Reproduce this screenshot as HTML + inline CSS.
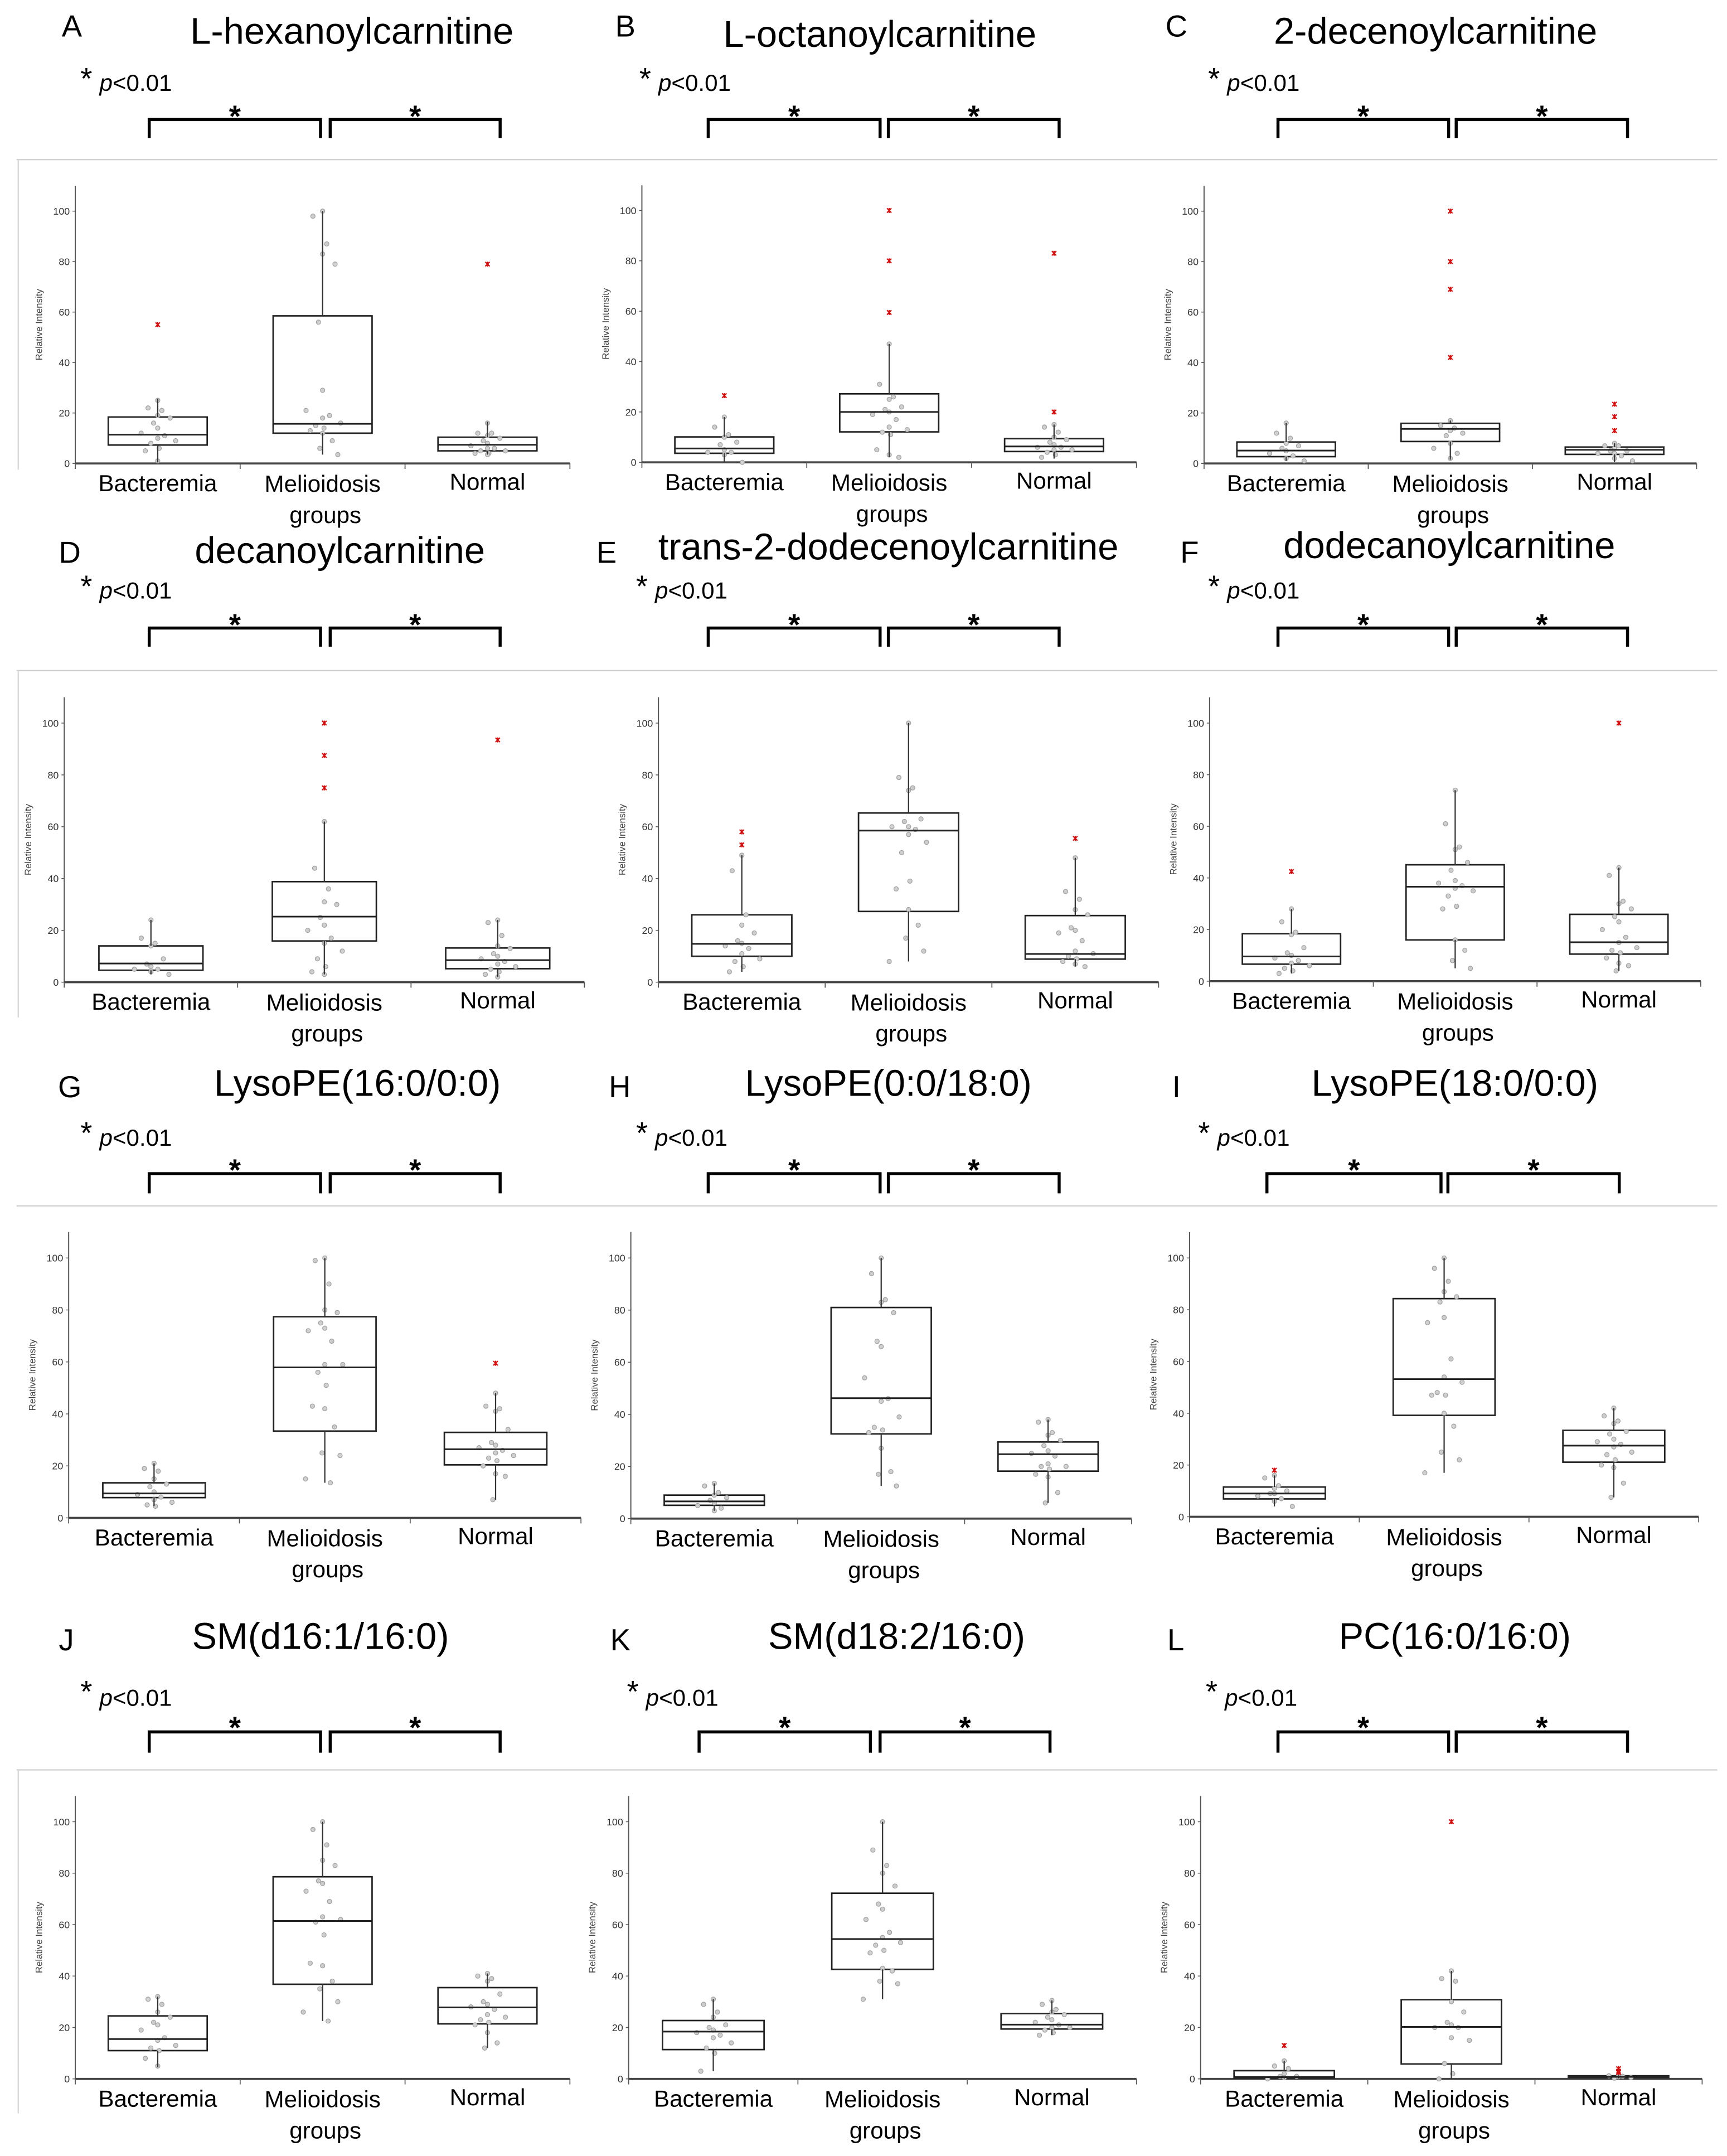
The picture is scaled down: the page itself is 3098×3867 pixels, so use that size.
<!DOCTYPE html>
<html><head><meta charset="utf-8"><title>Relative intensity box plots for 12 metabolites</title>
<style>
html,body{margin:0;padding:0;background:#fff;}
svg{display:block;}
text{font-family:"Liberation Sans",Arial,sans-serif;}
</style></head>
<body>
<svg id="fig" xmlns="http://www.w3.org/2000/svg" width="3098" height="3867" viewBox="0 0 1250 1560.3" preserveAspectRatio="none">
<rect x="0" y="0" width="1250" height="1560.3" fill="#fff"/>
</svg>
<script>
// ---------- DATA ----------
const categories = ["Bacteremia", "Melioidosis groups", "Normal"];
const yTicks = [0, 20, 40, 60, 80, 100];
const panelLetters = ["A","B","C","D","E","F","G","H","I","J","K","L"];
const panelTitles = ["L-hexanoylcarnitine","L-octanoylcarnitine","2-decenoylcarnitine","decanoylcarnitine","trans-2-dodecenoylcarnitine","dodecanoylcarnitine","LysoPE(16:0/0:0)","LysoPE(0:0/18:0)","LysoPE(18:0/0:0)","SM(d16:1/16:0)","SM(d18:2/16:0)","PC(16:0/16:0)"];
// box stats per group: [q1, median, q3, whiskerLow, whiskerHigh]
const A_box = [[7.3,11.4,18.4,0.4,25.6],[12,15.7,58.5,3.5,100],[5,7.4,10.4,3.5,16.5]];
const A_pts = [[25,22,21,19,18,16,14,12,11,10,9,8,6,5,1],[100,98,87,83,79,56,29,21,19,18,16,15,14,13,12,9,6,3.5],[16,12,12,11,10,9,8,7,6,6,5,5,4,4,3.5]];
const A_out = [[55],[],[79]];
const B_box = [[3.6,5.5,10.1,0,18],[12.1,20,27.2,2,47],[4.3,6.3,9.4,1.5,15]];
const B_pts = [[18,14,11,10,8,7,5,4,4,3,0],[47,31,26,25,22,21,20,19,17,14,13,12,11,5,3,2],[15,14,12,10,9,8,7,6,6,5,5,4,3,2]];
const B_out = [[26.5],[100,80,59.5],[83,20]];
const C_box = [[2.7,5.1,8.5,1,16],[8.7,13.7,15.9,1.5,17],[3.6,5.4,6.5,0.5,8]];
const C_pts = [[16,12,10,8,7,6,5,4,3,2,1],[17,15,14,13,12,11,8,6,4,2],[8,7,7,6,5,5,4,4,3,2,1]];
const C_out = [[],[100,80,69,42],[23.5,18.5,13]];
const D_box = [[4.6,7.2,14,3,24],[15.9,25.3,38.8,3,62],[5.2,8.5,13.2,2,24]];
const D_pts = [[24,17,15,14,9,7,6,5,5,4,3],[62,44,36,31,30,25,22,20,17,15,12,9,6,4,3],[24,23,18,14,13,11,10,9,8,7,6,5,4,3,2]];
const D_out = [[],[100,87.5,75],[93.5]];
const E_box = [[10,14.8,26,4,49],[27.3,58.5,65.3,8,100],[8.9,10.9,25.7,6,48]];
const E_pts = [[49,43,26,22,19,16,15,14,13,11,9,8,6,4],[100,79,75,74,63,62,60,60,59,57,54,50,39,36,28,22,17,12,8],[48,35,32,28,26,21,20,19,16,12,11,10,9,8,7,6]];
const E_out = [[58,53],[],[55.5]];
const F_box = [[6.6,9.6,18.4,3,28],[16,36.6,45.1,5,74],[10.5,15.1,25.9,4,44]];
const F_pts = [[28,23,19,18,13,11,10,9,8,7,6,5,4,3],[74,61,52,51,46,43,39,38,37,36,35,33,29,28,16,12,8,5],[44,41,31,30,28,25,23,20,17,15,13,12,11,9,7,6,4]];
const F_out = [[42.5],[],[100]];
const G_box = [[7.8,9.4,13.5,4.5,21],[33.4,57.9,77.4,13.5,100],[20.4,26.4,32.9,7,48]];
const G_pts = [[21,19,18,15,13,12,10,9,8,7,6,5,4.5],[100,99,90,80,79,75,73,72,68,59,59,56,51,43,42,35,25,24,15,13.5],[48,43,42,41,34,29,28,27,26,25,24,23,22,20,17,16,7]];
const G_out = [[],[],[59.5]];
const H_box = [[5.1,6.6,9,3,13.5],[32.5,46.2,81,12.5,100],[18.2,24.7,29.4,6,38]];
const H_pts = [[13.5,12.5,10,9,8,7,6,5,4,3],[100,94,84,83,79,68,66,54,46,45,39,35,34,33,27,18,17,12.5],[38,37,33,32,30,28,26,25,24,21,20,20,19,17,16,10,6]];
const H_out = [[],[],[]];
const I_box = [[6.9,9,11.5,4,16],[39.2,53.2,84.3,17,100],[21.1,27.5,33.4,7.5,42]];
const I_pts = [[16,15,12,11,10,9,9,8,7,6,4],[100,96,91,87,85,83,77,75,61,54,52,48,47,47,40,35,25,22,17],[42,39,37,36,33,32,30,29,28,27,25,24,22,20,19,13,7.5]];
const I_out = [[18],[],[]];
const J_box = [[11,15.5,24.5,4.5,32],[36.8,61.4,78.6,22.5,100],[21.4,27.8,35.5,12,41]];
const J_pts = [[32,31,29,26,24,22,21,19,16,15,13,12,11,8,5],[100,97,91,85,83,77,76,73,69,63,62,61,56,45,44,38,35,30,26,22.5],[41,40,39,38,33,30,29,28,27,25,24,23,22,21,18,14,12]];
const J_out = [[],[],[]];
const K_box = [[11.4,18.4,22.7,3,31],[42.6,54.4,72.2,31,100],[19.4,21.1,25.4,17,30.5]];
const K_pts = [[31,29,26,24,21,20,19,18,17,16,14,12,10,3],[100,89,83,80,75,68,66,62,57,55,53,52,50,49,43,42,38,37,31],[30.5,29,27,26,25,24,23,22,21,20,20,19,18,17]];
const K_out = [[],[],[]];
const L_box = [[0.3,0.7,3.2,0,7],[5.8,20.2,30.8,0,42],[0.5,0.8,1.2,0.2,1.5]];
const L_pts = [[7,5,4,2,1,1,0.5,0],[42,39,38,30,26,22,21,20,20,16,15,6,2,0],[1.5,1.2,1,0.8,0.5,0.3]];
const L_out = [[13],[100],[4,3,2.5]];

const boxSets = [A_box,B_box,C_box,D_box,E_box,F_box,G_box,H_box,I_box,J_box,K_box,L_box];
const pointSets = [A_pts,B_pts,C_pts,D_pts,E_pts,F_pts,G_pts,H_pts,I_pts,J_pts,K_pts,L_pts];
const outlierSets = [A_out,B_out,C_out,D_out,E_out,F_out,G_out,H_out,I_out,J_out,K_out,L_out];

// ---------- LAYOUT (positions, not data) ----------
const rowLayout = [
  {pStar:51.6, p:61.4, brTop:86.5, brBot:100, brStar:79, frame:115.5, frameBot:340, lab:18.4},
  {pStar:419, p:428.8, brTop:454.5, brBot:468, brStar:447, frame:485.3, frameBot:736.4, lab:399.3},
  {pStar:814.5, p:824.8, brTop:849.4, brBot:863.6, brStar:841.6, frame:872.7, frameBot:0, lab:786},
  {pStar:1218.9, p:1230, brTop:1253.4, brBot:1268.4, brStar:1245.1, frame:1280.9, frameBot:1529.5, lab:1186.4}
];
const panelLayout = [
  {ax:54.5, ar:412.5, y0:335.4, y100:152.8, lx:52, tx:254.7, ty:24.6, sx:62.5, br:[108,232,239,362]},
  {ax:464.6, ar:822.6, y0:334.6, y100:152.3, lx:452.6, tx:636.8, ty:27, sx:467, br:[512.6,637,643,766.6]},
  {ax:871.5, ar:1228, y0:335.4, y100:152.8, lx:851.5, tx:1039, ty:24.6, sx:878.7, br:[925,1048.5,1054,1178]},
  {ax:46.5, ar:423, y0:710.8, y100:523.3, lx:50.5, tx:246, ty:400.5, sx:62.5, br:[108,232,239,362]},
  {ax:476.6, ar:838.6, y0:710.8, y100:523.3, lx:439, tx:643, ty:398, sx:464.6, br:[512.6,637,643,766.6]},
  {ax:875.5, ar:1231, y0:710.1, y100:523.3, lx:861, tx:1049, ty:396.8, sx:878.7, br:[925,1048.5,1054,1178]},
  {ax:49.7, ar:420.5, y0:1098.5, y100:910.4, lx:50.5, tx:258.7, ty:786, sx:62.5, br:[108,232,239,362]},
  {ax:456.6, ar:819, y0:1099, y100:910.4, lx:448.6, tx:643, ty:786, sx:464.6, br:[512.6,637,643,766.6]},
  {ax:861, ar:1229.5, y0:1097.7, y100:910.4, lx:851.5, tx:1053, ty:786, sx:871.5, br:[917,1043,1048,1172]},
  {ax:54.5, ar:412.5, y0:1504.5, y100:1318.4, lx:48, tx:232, ty:1186.4, sx:62.5, br:[108,232,239,362]},
  {ax:455, ar:822.6, y0:1504.5, y100:1318.4, lx:449, tx:649, ty:1186.4, sx:458, br:[506,630,637,760]},
  {ax:869, ar:1232, y0:1504.5, y100:1318.4, lx:851, tx:1053, ty:1186.4, sx:877, br:[925,1048.5,1054,1178]}
];
const jitterPx = [0,-7,3,0,9,-3,0,-12,5,0,13,-5,1,-9,0,7,-2,11,-14,4];

const NS = "http://www.w3.org/2000/svg";
const svg = document.getElementById("fig");
function mk(tag, attrs, parent) {
  const e = document.createElementNS(NS, tag);
  for (const k in attrs) e.setAttribute(k, attrs[k]);
  parent.appendChild(e);
  return e;
}

rowLayout.forEach((r, ri) => {
  const fl = mk("line", {x1:12, x2:1243, y1:r.frame, y2:r.frame, stroke:"#cfcfcf", "stroke-width":0.9}, svg);
  
  
  if (r.frameBot) {
    const lb = mk("line", {x1:13.2, x2:13.2, y1:r.frame, y2:r.frameBot, stroke:"#d5d5d5", "stroke-width":0.9}, svg);
    
    
  }
});

panelLayout.forEach((L, i) => {
  const row = rowLayout[Math.floor(i / 3)];
  const g = mk("g", {}, svg);
  
  

  const let_ = mk("text", {x:L.lx, y:row.lab + 8, "font-size":22, "text-anchor":"middle", fill:"#000"}, g);
  let_.textContent = panelLetters[i];
  
  
  const tt = mk("text", {x:L.tx, y:L.ty + 7, "font-size":27, "text-anchor":"middle", fill:"#000"}, g);
  tt.textContent = panelTitles[i];
  
  

  const st = mk("text", {x:L.sx, y:row.pStar + 12.8, "font-size":22, "text-anchor":"middle", fill:"#000"}, g);
  st.textContent = "*";
  
  
  const pt = mk("text", {x:L.sx + 9.5, y:row.p + 4.4, "font-size":17, fill:"#000"}, g);
  
  
  const ts1 = mk("tspan", {"font-style":"italic"}, pt);
  ts1.textContent = "p";
  const ts2 = mk("tspan", {}, pt);
  ts2.textContent = "<0.01";

  [[L.br[0], L.br[1]], [L.br[2], L.br[3]]].forEach((b, bi) => {
    const bp = mk("path", {d:`M${b[0]},${row.brBot} L${b[0]},${row.brTop} L${b[1]},${row.brTop} L${b[1]},${row.brBot}`, fill:"none", stroke:"#000", "stroke-width":2.2}, g);
    
    
    const bs = mk("text", {x:(b[0] + b[1]) / 2, y:row.brStar + 12.5, "font-size":22, "font-weight":"bold", "text-anchor":"middle", fill:"#000"}, g);
    bs.textContent = "*";
    
    
  });

  const yS = v => L.y0 - (L.y0 - L.y100) * v / 100;
  const catW = (L.ar - L.ax) / 3;
  const xC = j => L.ax + catW * (j + 0.5);
  const hw = catW * 0.3;

  const ya = mk("line", {x1:L.ax, x2:L.ax, y1:yS(110), y2:L.y0, stroke:"#555", "stroke-width":0.8}, g);
  
  
  yTicks.forEach(t => {
    const tk = mk("line", {x1:L.ax - 2, x2:L.ax, y1:yS(t), y2:yS(t), stroke:"#555", "stroke-width":0.6}, g);
    
    
    const tl = mk("text", {x:L.ax - 4, y:yS(t) + 2.6, "font-size":7.2, "text-anchor":"end", fill:"#333"}, g);
    tl.textContent = t;
    
    
  });
  const yt = mk("text", {x:0, y:0, "font-size":6.8, "text-anchor":"middle", fill:"#444", transform:`translate(${L.ax - 24},${yS(55)}) rotate(-90)`}, g);
  yt.textContent = "Relative Intensity";
  
  

  const xa = mk("line", {x1:L.ax, x2:L.ar, y1:L.y0, y2:L.y0, stroke:"#444", "stroke-width":1.5}, g);
  
  
  for (let j = 0; j <= 3; j++) {
    const xt = mk("line", {x1:L.ax + catW * j, x2:L.ax + catW * j, y1:L.y0, y2:L.y0 + 4, stroke:"#555", "stroke-width":0.7}, g);
    
    
  }

  categories.forEach((c, j) => {
    const words = c.split(" ");
    const dy = j === 0 ? 20 : (j === 1 ? 20.5 : 19);
    const cl = mk("text", {x:xC(j), y:L.y0 + dy, "font-size":17, "text-anchor":"middle", fill:"#000"}, g);
    cl.textContent = words[0];
    
    
    if (words.length > 1) {
      const cl2 = mk("text", {x:xC(j) + 2, y:L.y0 + 43, "font-size":17, "text-anchor":"middle", fill:"#000"}, g);
      cl2.textContent = words[1];
      
      
    }
  });

  boxSets[i].forEach((b, j) => {
    const cx = xC(j);
    const bx = mk("rect", {x:cx - hw, y:yS(b[2]), width:hw * 2, height:Math.max(0.5, yS(b[0]) - yS(b[2])), fill:"#fff", stroke:"#222", "stroke-width":1.1}, g);
    
    
  });
  pointSets[i].forEach((arr, j) => {
    arr.forEach((v, k) => {
      const c = mk("circle", {cx:xC(j) + jitterPx[k % jitterPx.length], cy:yS(v), r:1.6, fill:"#cfcfcf", stroke:"#a0a0a0", "stroke-width":0.5}, g);
      
      
    });
  });
  boxSets[i].forEach((b, j) => {
    const cx = xC(j);
    const w1 = mk("line", {x1:cx, x2:cx, y1:yS(b[4]), y2:yS(b[2]), stroke:"#333", "stroke-width":0.9}, g);
    
    
    const w2 = mk("line", {x1:cx, x2:cx, y1:yS(b[0]), y2:yS(b[3]), stroke:"#333", "stroke-width":0.9}, g);
    
    
    const md = mk("line", {x1:cx - hw, x2:cx + hw, y1:yS(b[1]), y2:yS(b[1]), stroke:"#222", "stroke-width":1.2}, g);
    
    
  });
  outlierSets[i].forEach((arr, j) => {
    arr.forEach(v => {
      const o = mk("path", {d:`M${xC(j) - 1.6},${yS(v) - 1.6} L${xC(j) + 1.6},${yS(v) + 1.6} M${xC(j) + 1.6},${yS(v) - 1.6} L${xC(j) - 1.6},${yS(v) + 1.6} M${xC(j)},${yS(v) - 1.8} L${xC(j)},${yS(v) + 1.8}`, stroke:"#d01010", "stroke-width":0.9, fill:"none"}, g);
      
      
    });
  });
});
</script>
</body></html>
